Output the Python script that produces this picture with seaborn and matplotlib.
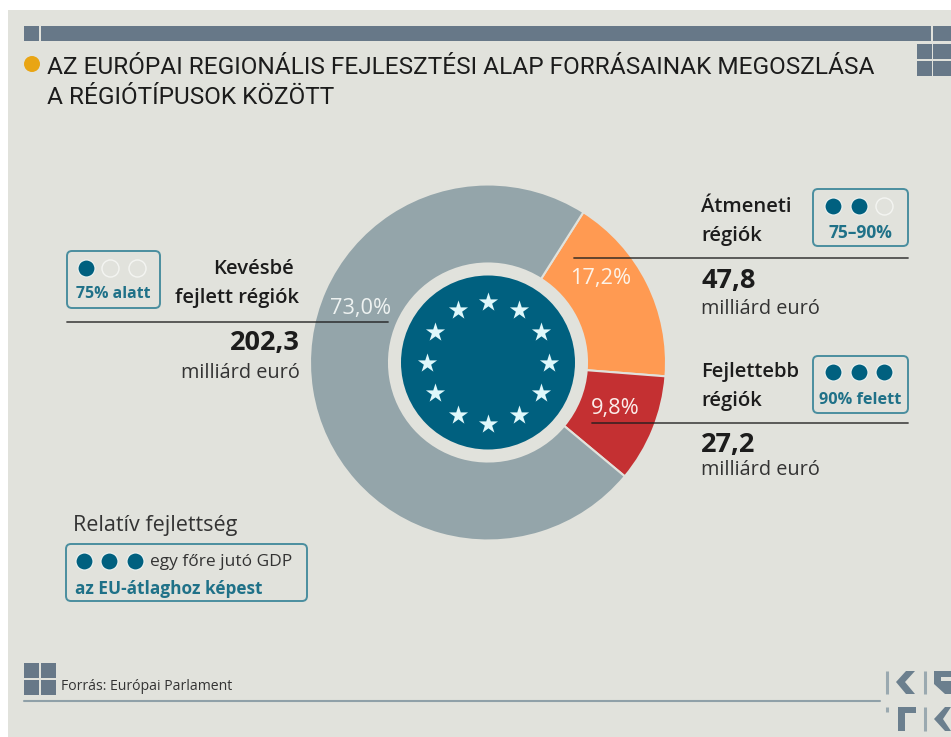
import numpy as np
import pandas as pd
import seaborn as sns
import matplotlib.pyplot as plt
from matplotlib.patches import Rectangle, Circle, FancyBboxPatch, Polygon

sns.set_theme(style="white")
plt.rcParams['font.family'] = ['Open Sans', 'DejaVu Sans']

# Data
regions = ['Átmeneti régiók', 'Fejlettebb régiók', 'Kevésbé fejlett régiók']
values = [47.8, 27.2, 202.3]
percent_labels = ['17,2%', '9,8%', '73,0%']
amount_labels = ['47,8', '27,2', '202,3']
range_labels = ['75–90%', '90% felett', '75% alatt']
filled_dots = [2, 3, 1]

BG = '#E1E2DC'
SLATE = '#677888'
BLUE = '#00607F'
BOX = '#4A8E9F'
TEXT = '#1C1C1C'
colors = ['#FF9A52', '#C43032', '#94A5AA']

W, H = 951, 737


def Y(y):
    # picture pixels count from the top
    return H - y


fig = plt.figure(figsize=(W / 100, H / 100), dpi=100, facecolor='white')
ax = fig.add_axes([0, 0, 1, 1])

ax.add_patch(Rectangle((8, 0), W - 8, H - 10, fc=BG, ec='none', zorder=0))

# Top bar and corner squares
ax.add_patch(Rectangle((24, Y(41)), 15, 15, fc=SLATE, ec='none'))
ax.add_patch(Rectangle((41, Y(41)), 890, 15, fc=SLATE, ec='none'))
ax.add_patch(Rectangle((933, Y(41)), 18, 15, fc=SLATE, ec='none'))
for x0, y0 in [(917, 59), (933, 59), (917, 76), (933, 76)]:
    ax.add_patch(Rectangle((x0, Y(y0)), 15 if x0 == 917 else 18, 15, fc=SLATE, ec='none'))

# Title
ax.add_patch(Circle((32, Y(64)), 8, fc='#E9A514', ec='none'))
ax.text(47, Y(67), 'AZ EURÓPAI REGIONÁLIS FEJLESZTÉSI ALAP FORRÁSAINAK MEGOSZLÁSA',
        family='Roboto', fontsize=17.55, color=TEXT, va='center', ha='left')
ax.text(47, Y(97), 'A RÉGIÓTÍPUSOK KÖZÖTT',
        family='Roboto', fontsize=17.55, color=TEXT, va='center', ha='left')

# Donut
cx, cy = 488, Y(362.5)
ax.pie(values, colors=colors, startangle=57.6, counterclock=False,
       center=(cx, cy), radius=178, frame=True,
       wedgeprops=dict(width=79, edgecolor=BG, linewidth=1.5))
ax.add_patch(Circle((cx, cy), 87, fc=BLUE, ec='none', zorder=3))

# EU stars
star_angles = np.arange(12) * np.pi / 6
stars = pd.DataFrame({'x': cx + 61 * np.cos(star_angles), 'y': cy + 61 * np.sin(star_angles)})
sns.scatterplot(data=stars, x='x', y='y', marker='*', s=210, color='#DFF8FB',
                linewidth=0, ax=ax, zorder=4, legend=False)


def dots(xs, y, n_filled):
    d = pd.DataFrame({'x': xs, 'y': [Y(y)] * len(xs)})
    sns.scatterplot(data=d.iloc[:n_filled], x='x', y='y', s=150, color=BLUE,
                    edgecolor='#EEF3F1', linewidth=0.8, ax=ax, zorder=5, legend=False)
    if n_filled < len(xs):
        sns.scatterplot(data=d.iloc[n_filled:], x='x', y='y', s=150, color=BG,
                        edgecolor='#F4F5F2', linewidth=1.0, ax=ax, zorder=5, legend=False)


def box(x0, y0, x1, y1):
    ax.add_patch(FancyBboxPatch((x0, Y(y1)), x1 - x0, y1 - y0,
                                boxstyle='round,pad=0,rounding_size=5',
                                fc='none', ec=BOX, lw=1.4, zorder=4))


def label(x, y, s, size=13.5, weight='normal', ha='left', color=TEXT):
    # open sans sits a little high with va=center
    ax.text(x, Y(y + 2), s, fontsize=size, fontweight=weight, ha=ha, va='center',
            color=color, zorder=7)


# Leader lines
for x0, x1, y in [(574, 908, 258), (592, 908, 423), (67, 388, 322)]:
    ax.plot([x0, x1], [Y(y), Y(y)], color='#1E1E1E', alpha=0.75, lw=1.3, zorder=6)

# Percent labels on the ring
label(601, 276, percent_labels[0], size=15.7, ha='center', color='#FDF3E8')
label(615, 406, percent_labels[1], size=15.7, ha='center', color='#FBEDEA')
label(361, 306, percent_labels[2], size=15.7, ha='center', color='#EEF2F1')

# Átmeneti
box(813, 189, 908, 246)
dots([833, 859, 884], 206, filled_dots[0])
label(860, 231, range_labels[0], size=12.5, weight='bold', ha='center', color='#1F7188')
label(701, 205, 'Átmeneti', size=14.6, weight='semibold')
label(701, 234, 'régiók', size=14.6, weight='semibold')
label(701, 279, amount_labels[0], size=19.5, weight='bold')
label(701, 307, 'milliárd euró', size=14.3, color='#333333')

# Fejlettebb
box(813, 356, 908, 413)
dots([833, 859, 884], 372, filled_dots[1])
label(860, 398, range_labels[1], size=11.7, weight='bold', ha='center', color='#1F7188')
label(701, 370, 'Fejlettebb', size=14.6, weight='semibold')
label(701, 399, 'régiók', size=14.6, weight='semibold')
label(701, 443, amount_labels[1], size=19.5, weight='bold')
label(701, 468, 'milliárd euró', size=14.3, color='#333333')

# Kevésbé fejlett
box(67, 251, 160, 308)
dots([86, 110, 137], 268, filled_dots[2])
label(113, 292, range_labels[2], size=11.4, weight='bold', ha='center', color='#1F7188')
label(294, 267, 'Kevésbé', size=14.6, weight='semibold', ha='right')
label(299, 296, 'fejlett régiók', size=14.6, weight='semibold', ha='right')
label(300, 341, amount_labels[2], size=19.5, weight='bold', ha='right')
label(300, 371, 'milliárd euró', size=14.3, ha='right', color='#333333')

# Legend box
label(73, 523, 'Relatív fejlettség', size=15.5, color='#333333')
box(66, 544, 307, 601)
dots([84, 109, 135], 561, 3)
label(150, 560, 'egy főre jutó GDP', size=12.5, color='#333333')
label(75, 587, 'az EU-átlaghoz képest', size=12.4, weight='bold', color='#1F7188')

# Footer
for x0, y0 in [(24, 678), (41, 678), (24, 695), (41, 695)]:
    ax.add_patch(Rectangle((x0, Y(y0)), 15, 15, fc=SLATE, ec='none'))
label(61, 685, 'Forrás: Európai Parlament', size=10.1, color='#333333')
ax.plot([24, 880], [Y(701), Y(701)], color='#8FA0A8', lw=1.5)

# Logo
LOGO = '#6B7F8E'
LOGO_LIGHT = '#9AA9B0'
for x0, y0, y1 in [(887, 671, 694), (925, 671, 694), (887, 707, 712), (925, 707, 731)]:
    ax.plot([x0, x0], [Y(y0), Y(y1)], color=LOGO_LIGHT, lw=2.2, solid_capstyle='butt')
shapes = [
    [(915, 671), (906, 671), (896, 682), (906, 694), (915, 694), (905, 682)],
    [(898, 731), (898, 707), (916, 707), (916, 713), (905, 713), (905, 731)],
    [(951, 707), (945, 707), (934, 719), (945, 731), (951, 731), (943, 719)],
    [(934, 671), (951, 671), (951, 677), (941, 677), (941, 681), (951, 681), (951, 694),
     (945, 694), (934, 684)],
]
for pts in shapes:
    ax.add_patch(Polygon([(x, Y(y)) for x, y in pts], closed=True, fc=LOGO, ec='none'))

ax.set_xlim(0, W)
ax.set_ylim(0, H)
ax.set_aspect('auto')
ax.axis('off')

fig.savefig('out.png', dpi=100, facecolor='white')
